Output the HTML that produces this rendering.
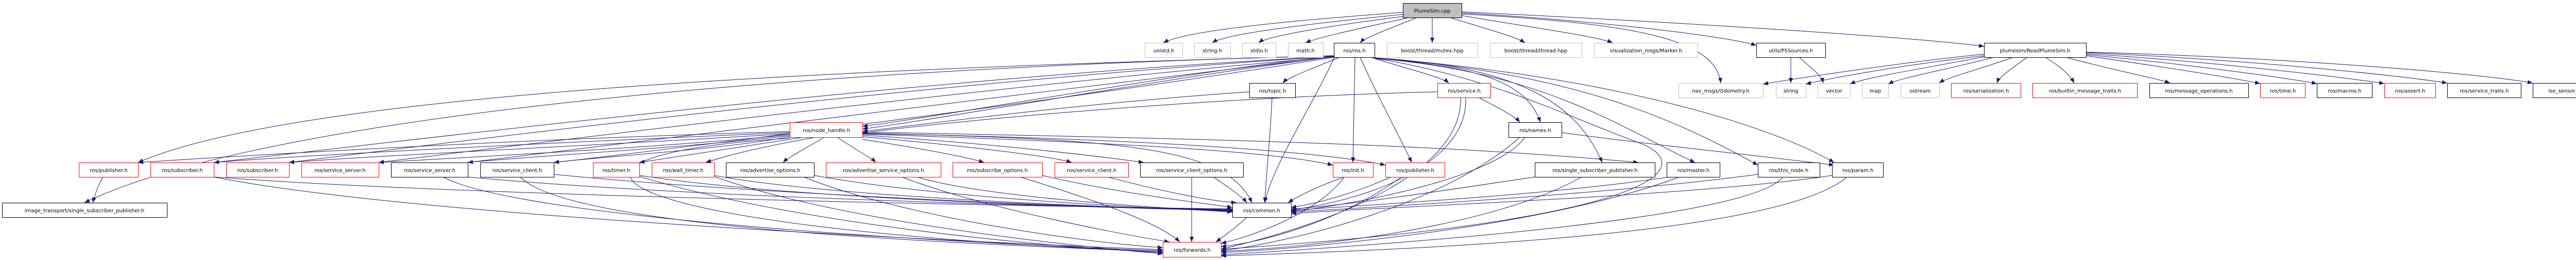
<!DOCTYPE html>
<html><head><meta charset="utf-8"><style>
html,body{margin:0;padding:0;background:#fff;}
svg{display:block;}
text{font-family:"DejaVu Sans","Liberation Sans",sans-serif;font-size:10px;fill:#000;text-anchor:middle;}
.e{fill:none;stroke:#191970;stroke-width:1;marker-end:url(#a);}
.k{fill:#fff;stroke:#000;stroke-width:1;}
.g{fill:#fff;stroke:#bfbfbf;stroke-width:1;}
.r{fill:#fff;stroke:#ff0000;stroke-width:1;}
</style></head><body>
<svg width="5111" height="504" viewBox="0 0 5111 504" xmlns="http://www.w3.org/2000/svg">
<defs><marker id="a" markerUnits="userSpaceOnUse" markerWidth="11" markerHeight="9" refX="10" refY="4" orient="auto"><path d="M0,0 L10,4 L0,8 z" fill="#191970"/></marker></defs>
<g>
<!-- PlumeSim -> row A -->
<path class="e" d="M2723 24 C2500 40 2300 60 2258 83"/>
<path class="e" d="M2723 28 C2550 45 2380 65 2353 83"/>
<path class="e" d="M2723 32 C2580 50 2460 70 2443 83"/>
<path class="e" d="M2735 34 C2640 55 2560 72 2534 83"/>
<path class="e" d="M2750 34 C2700 55 2650 72 2640 83"/>
<path class="e" d="M2780 34 C2780 58 2780 58 2780 83"/>
<path class="e" d="M2815 34 C2880 55 2940 70 2960 83"/>
<path class="e" d="M2837 30 C2950 50 3100 70 3130 83"/>
<path class="e" d="M2837 25 C3100 40 3350 70 3409 88"/>
<path class="e" d="M2837 23 C3200 40 3700 70 3851 90"/>
<path class="e" d="M2837 27 C3150 45 3330 70 3340 161"/>
<!-- utils -->
<path class="e" d="M3476 111 C3476 136 3476 136 3476 161"/>
<path class="e" d="M3492 111 C3520 136 3535 145 3539 161"/>
<!-- ReadPlumeSim -> row B -->
<path class="e" d="M3851 105 C3700 120 3500 150 3422 163"/>
<path class="e" d="M3851 108 C3700 125 3560 150 3505 163"/>
<path class="e" d="M3851 110 C3750 130 3620 150 3591 163"/>
<path class="e" d="M3870 111 C3780 135 3690 150 3665 163"/>
<path class="e" d="M3908 111 C3840 135 3780 150 3764 161"/>
<path class="e" d="M3935 111 C3900 136 3880 150 3876 161"/>
<path class="e" d="M3970 111 C4010 136 4020 150 4026 161"/>
<path class="e" d="M4010 111 C4100 136 4180 150 4212 161"/>
<path class="e" d="M4049 108 C4200 130 4330 150 4387 162"/>
<path class="e" d="M4049 106 C4250 125 4430 150 4497 162"/>
<path class="e" d="M4049 104 C4300 120 4550 150 4628 162"/>
<path class="e" d="M4049 102 C4350 115 4650 145 4750 161"/>
<path class="e" d="M4049 101 C4400 110 4800 140 4916 161"/>
<!-- ros.h -->
<path class="e" d="M2600 111 C2540 136 2500 150 2490 161"/>
<path class="e" d="M2589 108 C2300 140 1800 230 1674 245"/>
<path class="e" d="M2589 110 C2300 145 1800 235 1674 250"/>
<path class="e" d="M2660 111 C2740 136 2800 150 2812 161"/>
<path class="e" d="M2630 111 C2628 200 2627 260 2626 315"/>
<path class="e" d="M2640 111 C2680 200 2720 270 2740 315"/>
<path class="e" d="M2668 112 C2850 130 2960 150 2990 237"/>
<path class="e" d="M2668 112 C2950 130 3060 200 3110 315"/>
<path class="e" d="M2668 113 C3000 140 3150 250 3290 315"/>
<path class="e" d="M2668 113 C3050 140 3250 230 3412 320"/>
<path class="e" d="M2668 112 C3150 150 3450 250 3560 315"/>
<path class="e" d="M2668 113 C2900 150 3050 230 3190 280 C3300 330 3190 430 2370 483"/>
<path class="e" d="M2590 111 C2550 200 2470 320 2455 393"/>
<path class="e" d="M2589 108 C1800 130 600 170 268 315"/>
<path class="e" d="M2589 108 C1500 135 500 230 164 393"/>
<path class="e" d="M2589 109 C1800 150 900 260 415 315"/>
<path class="e" d="M2589 109 C1800 160 1000 260 561 315"/>
<path class="e" d="M2589 110 C1900 170 1100 270 735 315"/>
<path class="e" d="M2589 110 C2000 180 1200 280 908 315"/>
<path class="e" d="M2589 111 C2100 190 1300 290 1075 315"/>
<!-- topic / service / names -->
<path class="e" d="M2425 178 C2100 200 1800 240 1674 255"/>
<path class="e" d="M2469 189 C2465 280 2457 340 2455 393"/>
<path class="e" d="M2790 178 C2300 190 1800 240 1674 258"/>
<path class="e" d="M2870 189 C2910 210 2940 225 2950 237"/>
<path class="e" d="M2845 189 C2850 300 2700 380 2506 407"/>
<path class="e" d="M2835 189 C2840 330 2600 430 2370 483"/>
<path class="e" d="M2960 266 C2900 350 2600 400 2506 410"/>
<path class="e" d="M3031 257 C3200 280 3400 300 3560 320"/>
<path class="e" d="M2950 266 C2800 400 2500 470 2370 486"/>
<!-- node_handle -> row D -->
<path class="e" d="M1533 255 C1000 270 500 300 268 315"/>
<path class="e" d="M1533 257 C1100 275 600 300 415 315"/>
<path class="e" d="M1533 259 C1200 280 750 300 561 315"/>
<path class="e" d="M1533 261 C1300 285 900 305 735 315"/>
<path class="e" d="M1533 263 C1350 285 1000 305 908 315"/>
<path class="e" d="M1533 265 C1400 290 1150 305 1075 315"/>
<path class="e" d="M1560 266 C1400 290 1300 305 1241 315"/>
<path class="e" d="M1583 266 C1450 290 1400 305 1370 315"/>
<path class="e" d="M1600 266 C1560 290 1530 305 1520 315"/>
<path class="e" d="M1625 266 C1660 290 1690 305 1700 315"/>
<path class="e" d="M1674 270 C1800 290 1880 305 1910 315"/>
<path class="e" d="M1674 265 C1900 285 2050 305 2080 315"/>
<path class="e" d="M1674 262 C1950 280 2150 305 2220 315"/>
<path class="e" d="M1674 258 C2150 270 2380 280 2430 393"/>
<path class="e" d="M1674 260 C2300 280 2500 300 2587 320"/>
<path class="e" d="M1674 259 C2300 270 2600 300 2689 320"/>
<path class="e" d="M1674 256 C2400 270 2800 280 3180 315"/>
<path class="e" d="M1533 268 C1000 300 1100 440 2257 488"/>
<!-- row D -> image_transport -->
<path class="e" d="M200 343 C190 360 185 375 180 393"/>
<!-- row D -> common (left) and forwards -->
<path class="e" d="M415 343 C900 380 2000 400 2392 405"/>
<path class="e" d="M415 343 C800 420 1900 470 2257 484"/>
<path class="e" d="M908 343 C1300 380 2000 400 2392 406"/>
<path class="e" d="M860 343 C1000 420 1800 470 2257 486"/>
<path class="e" d="M1075 338 C1400 370 2000 400 2392 407"/>
<path class="e" d="M1010 343 C1100 440 1800 470 2257 488"/>
<path class="e" d="M1241 340 C1500 380 2000 400 2392 408"/>
<path class="e" d="M1241 342 C1500 420 1900 470 2257 490"/>
<path class="e" d="M1386 340 C1600 380 2100 400 2392 409"/>
<path class="e" d="M1386 342 C1600 420 2000 470 2257 492"/>
<path class="e" d="M1580 340 C1800 380 2150 400 2392 410"/>
<path class="e" d="M1560 343 C1750 420 2100 470 2257 480"/>
<path class="e" d="M1780 343 C1900 380 2200 400 2392 411"/>
<path class="e" d="M1750 343 C1900 400 2150 450 2270 469"/>
<path class="e" d="M2023 340 C2150 370 2300 390 2392 402"/>
<path class="e" d="M1980 343 C2100 380 2250 430 2290 469"/>
<path class="e" d="M2150 343 C2250 370 2350 390 2400 393"/>
<path class="e" d="M2313 343 C2313 400 2313 440 2313 469"/>
<path class="e" d="M2355 343 C2380 360 2410 380 2420 393"/>
<path class="e" d="M2610 343 C2560 360 2520 380 2500 393"/>
<path class="e" d="M2610 343 C2550 420 2420 460 2370 472"/>
<path class="e" d="M2700 343 C2640 370 2560 395 2506 402"/>
<path class="e" d="M2720 343 C2600 430 2450 470 2370 478"/>
<path class="e" d="M2979 343 C2800 370 2600 400 2506 405"/>
<path class="e" d="M3070 343 C2900 440 2550 480 2370 487"/>
<path class="e" d="M3240 343 C3000 380 2600 400 2506 408"/>
<path class="e" d="M3260 343 C3000 440 2550 480 2370 490"/>
<path class="e" d="M3412 338 C3100 380 2600 405 2506 411"/>
<path class="e" d="M3460 343 C3400 430 2600 480 2370 494"/>
<path class="e" d="M3556 340 C3300 380 2700 400 2506 414"/>
<path class="e" d="M3585 343 C3450 460 2700 485 2370 496"/>
<path class="e" d="M2420 421 C2400 440 2380 455 2360 469"/>
</g>
<!-- nodes -->
<g>
<rect x="2723.5" y="6.5" width="114" height="28" fill="#bfbfbf" stroke="#000"/><text x="2780" y="24.5">PlumeSim.cpp</text>
<rect class="g" x="2222.5" y="83.5" width="73" height="28"/><text x="2259" y="101.5">unistd.h</text>
<rect class="g" x="2318.5" y="83.5" width="70" height="28"/><text x="2353" y="101.5">string.h</text>
<rect class="g" x="2411.5" y="83.5" width="65" height="28"/><text x="2444" y="101.5">stdio.h</text>
<rect class="g" x="2500.5" y="83.5" width="68" height="28"/><text x="2534" y="101.5">math.h</text>
<rect class="k" x="2589.5" y="83.5" width="79" height="28"/><text x="2629" y="101.5">ros/ros.h</text>
<rect class="g" x="2692.5" y="83.5" width="176" height="28"/><text x="2780" y="101.5">boost/thread/mutex.hpp</text>
<rect class="g" x="2892.5" y="83.5" width="178" height="28"/><text x="2981" y="101.5">boost/thread/thread.hpp</text>
<rect class="g" x="3094.5" y="83.5" width="201" height="28"/><text x="3195" y="101.5">visualization_msgs/Marker.h</text>
<rect class="k" x="3409.5" y="83.5" width="134" height="28"/><text x="3476" y="101.5">utils/PSSources.h</text>
<rect class="k" x="3851.5" y="83.5" width="198" height="28"/><text x="3950" y="101.5">plumesim/ReadPlumeSim.h</text>

<rect class="k" x="2425.5" y="161.5" width="89" height="28"/><text x="2470" y="179.5">ros/topic.h</text>
<rect class="r" x="2790.5" y="161.5" width="103" height="28"/><text x="2842" y="179.5">ros/service.h</text>
<rect class="g" x="3258.5" y="161.5" width="164" height="28"/><text x="3340" y="179.5">nav_msgs/Odometry.h</text>
<rect class="g" x="3447.5" y="161.5" width="58" height="28"/><text x="3476" y="179.5">string</text>
<rect class="g" x="3528.5" y="161.5" width="63" height="28"/><text x="3560" y="179.5">vector</text>
<rect class="g" x="3614.5" y="161.5" width="51" height="28"/><text x="3640" y="179.5">map</text>
<rect class="g" x="3689.5" y="161.5" width="75" height="28"/><text x="3727" y="179.5">ostream</text>
<rect class="r" x="3787.5" y="161.5" width="135" height="28"/><text x="3855" y="179.5">ros/serialization.h</text>
<rect class="r" x="3945.5" y="161.5" width="203" height="28"/><text x="4047" y="179.5">ros/builtin_message_traits.h</text>
<rect class="k" x="4172.5" y="161.5" width="192" height="28"/><text x="4268" y="179.5">ros/message_operations.h</text>
<rect class="r" x="4387.5" y="161.5" width="87" height="28"/><text x="4431" y="179.5">ros/time.h</text>
<rect class="k" x="4497.5" y="161.5" width="107" height="28"/><text x="4551" y="179.5">ros/macros.h</text>
<rect class="r" x="4628.5" y="161.5" width="99" height="28"/><text x="4678" y="179.5">ros/assert.h</text>
<rect class="k" x="4750.5" y="161.5" width="143" height="28"/><text x="4822" y="179.5">ros/service_traits.h</text>
<rect class="k" x="4916.5" y="161.5" width="190" height="28"/><text x="5011" y="179.5">lse_sensor_msgs/Nostril.h</text>

<rect class="r" x="1533.5" y="237.5" width="141" height="29"/><text x="1604" y="256">ros/node_handle.h</text>
<rect class="k" x="2928.5" y="237.5" width="103" height="29"/><text x="2980" y="256">ros/names.h</text>

<rect class="r" x="153.5" y="315.5" width="115" height="28"/><text x="211" y="333.5">ros/publisher.h</text>
<rect class="r" x="292.5" y="315.5" width="123" height="28"/><text x="354" y="333.5">ros/subscriber.h</text>
<rect class="r" x="439.5" y="315.5" width="122" height="28"/><text x="500" y="333.5">ros/subscriber.h</text>
<rect class="r" x="585.5" y="315.5" width="150" height="28"/><text x="660" y="333.5">ros/service_server.h</text>
<rect class="k" x="759.5" y="315.5" width="149" height="28"/><text x="834" y="333.5">ros/service_server.h</text>
<rect class="k" x="932.5" y="315.5" width="143" height="28"/><text x="1004" y="333.5">ros/service_client.h</text>
<rect class="r" x="1151.5" y="315.5" width="90" height="28"/><text x="1196" y="333.5">ros/timer.h</text>
<rect class="r" x="1265.5" y="315.5" width="121" height="28"/><text x="1326" y="333.5">ros/wall_timer.h</text>
<rect class="k" x="1409.5" y="315.5" width="171" height="28"/><text x="1495" y="333.5">ros/advertise_options.h</text>
<rect class="r" x="1603.5" y="315.5" width="223" height="28"/><text x="1715" y="333.5">ros/advertise_service_options.h</text>
<rect class="r" x="1849.5" y="315.5" width="174" height="28"/><text x="1936" y="333.5">ros/subscribe_options.h</text>
<rect class="r" x="2047.5" y="315.5" width="143" height="28"/><text x="2119" y="333.5">ros/service_client.h</text>
<rect class="k" x="2213.5" y="315.5" width="200" height="28"/><text x="2313" y="333.5">ros/service_client_options.h</text>
<rect class="r" x="2587.5" y="315.5" width="78" height="28"/><text x="2626" y="333.5">ros/init.h</text>
<rect class="r" x="2689.5" y="315.5" width="115" height="28"/><text x="2747" y="333.5">ros/publisher.h</text>
<rect class="k" x="2979.5" y="315.5" width="233" height="28"/><text x="3096" y="333.5">ros/single_subscriber_publisher.h</text>
<rect class="k" x="3235.5" y="315.5" width="103" height="28"/><text x="3287" y="333.5">ros/master.h</text>
<rect class="k" x="3412.5" y="315.5" width="120" height="28"/><text x="3472" y="333.5">ros/this_node.h</text>
<rect class="k" x="3556.5" y="315.5" width="99" height="28"/><text x="3606" y="333.5">ros/param.h</text>

<rect class="k" x="4.5" y="393.5" width="320" height="28"/><text x="164" y="411.5">image_transport/single_subscriber_publisher.h</text>
<rect class="k" x="2392.5" y="393.5" width="114" height="28"/><text x="2449" y="411.5">ros/common.h</text>
<rect class="r" x="2257.5" y="469.5" width="113" height="29"/><text x="2314" y="488">ros/forwards.h</text>
</g>
</svg>
</body></html>
